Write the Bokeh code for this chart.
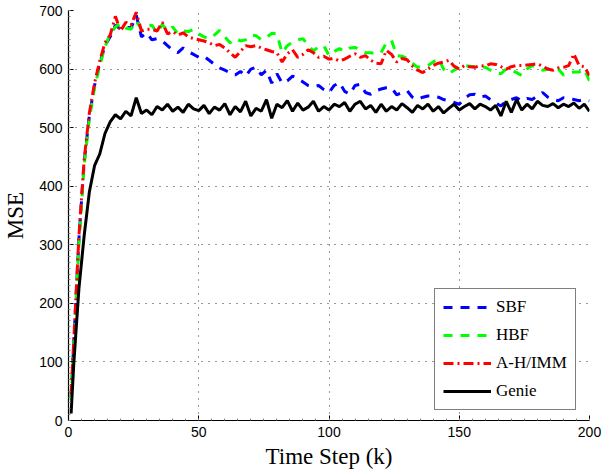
from bokeh.plotting import figure
from bokeh.models import (SingleIntervalTicker, Legend, LegendItem, Range1d)
from bokeh.embed import file_html
from bokeh.resources import INLINE

# time steps: k = 1, then 2, 4, ..., 200
k = [1] + list(range(2, 201, 2))

sbf = [40, 130, 310, 440, 520, 572, 610, 640, 655, 675,
       668, 672, 670, 692, 655, 662, 650, 652, 648, 640,
       632, 628, 636, 630, 625, 620, 622, 615, 608, 602,
       598, 594, 590, 596, 588, 600, 603, 590, 598, 576,
       592, 576, 580, 588, 584, 578, 572, 570, 572, 565,
       560, 572, 577, 562, 557, 572, 574, 560, 557, 563,
       566, 568, 568, 556, 560, 563, 552, 548, 552, 554,
       554, 552, 548, 546, 543, 540, 550, 556, 557, 552,
       554, 548, 542, 537, 545, 548, 551, 546, 550, 548,
       554, 560, 552, 548, 546, 551, 550, 548, 546, 548, 546]

hbf = [35, 125, 300, 435, 515, 568, 606, 638, 660, 672,
       678, 670, 668, 682, 668, 672, 675, 662, 676, 666,
       672, 660, 665, 664, 668, 660, 655, 652, 658, 666,
       655, 645, 652, 648, 650, 658, 657, 650, 654, 661,
       660, 628, 640, 646, 650, 652, 640, 631, 638, 640,
       623, 630, 635, 630, 636, 637, 633, 628, 628, 626,
       628, 645, 649, 623, 622, 618, 610, 603, 605, 606,
       612, 618, 600, 592, 598, 603, 606, 605, 604, 603,
       603, 598, 594, 592, 600, 598, 594, 589, 600, 606,
       602, 598, 600, 598, 600, 590, 592, 595, 595, 600, 580]

ahimm = [45, 135, 315, 445, 525, 576, 614, 645, 658, 690,
         665, 680, 675, 697, 665, 668, 668, 665, 680, 660,
         664, 658, 662, 655, 652, 650, 648, 645, 640, 642,
         636, 628, 620, 630, 640, 638, 640, 636, 633, 630,
         628, 612, 626, 633, 620, 625, 633, 628, 620, 622,
         617, 618, 614, 617, 622, 626, 620, 623, 615, 610,
         609, 632, 625, 612, 618, 616, 605, 598, 594, 600,
         606, 610, 612, 615, 605, 600, 606, 604, 603, 606,
         605, 609, 608, 604, 600, 604, 606, 606, 607, 608,
         609, 605, 600, 598, 602, 603, 606, 626, 606, 604, 589]

genie = [12, 95, 225, 315, 390, 435, 455, 490, 510, 522,
         515, 528, 520, 551, 524, 530, 522, 536, 530, 540,
         528, 535, 526, 540, 532, 529, 538, 524, 535, 530,
         541, 522, 536, 527, 545, 520, 533, 528, 548, 516,
         540, 534, 546, 528, 542, 530, 535, 545, 528, 536,
         530, 540, 536, 543, 528, 540, 545, 532, 538, 526,
         540, 528, 536, 530, 541, 534, 526, 538, 532, 540,
         528, 536, 525, 533, 540, 530, 536, 541, 532, 540,
         536, 530, 538, 520, 545, 526, 548, 530, 540, 532,
         545, 538, 536, 541, 534, 540, 536, 542, 533, 540, 528]

series_names = ["SBF", "HBF", "A-H/IMM", "Genie"]
x_ticks_interval = 50
y_ticks_interval = 100

SERIF = "Liberation Serif"
SANS = "Liberation Sans"

p = figure(width=613, height=471, output_backend="svg", toolbar_location=None,
           x_range=Range1d(0, 200), y_range=Range1d(0, 700),
           min_border_left=68, min_border_right=24, min_border_top=10, min_border_bottom=10,
           background_fill_color="white", border_fill_color="white")
p.outline_line_color = None

r_sbf = p.line(k, sbf, line_color="#0000FF", line_width=3, line_dash="9 8")
r_hbf = p.line(k, hbf, line_color="#00FF00", line_width=3, line_dash="9 8")
r_ah = p.line(k, ahimm, line_color="#FF0000", line_width=3, line_dash="10 4 2 4")
r_gen = p.line(k, genie, line_color="#000000", line_width=3)

xt = SingleIntervalTicker(interval=x_ticks_interval, num_minor_ticks=10)
yt = SingleIntervalTicker(interval=y_ticks_interval, num_minor_ticks=10)
p.xaxis.ticker = xt
p.yaxis.ticker = yt
p.xgrid.ticker = xt
p.ygrid.ticker = yt

for ax in (p.xaxis[0], p.yaxis[0]):
    ax.axis_line_color = "black"
    ax.axis_line_width = 1.2
    ax.major_tick_in = 5
    ax.major_tick_out = 0
    ax.minor_tick_in = 2
    ax.minor_tick_out = 0
    ax.minor_tick_line_color = "#888888"
    ax.major_label_text_font = SANS
    ax.major_label_text_font_size = "14px"
    ax.major_label_text_color = "black"
    ax.major_label_standoff = 6

p.yaxis.axis_label = "MSE"
p.yaxis.axis_label_text_font = SERIF
p.yaxis.axis_label_text_font_style = "normal"
p.yaxis.axis_label_text_font_size = "23px"
p.yaxis.axis_label_text_color = "black"
p.yaxis.axis_label_standoff = 8

p.xaxis.axis_label = "Time Step (k)"
p.xaxis.axis_label_text_font = SERIF
p.xaxis.axis_label_text_font_style = "normal"
p.xaxis.axis_label_text_font_size = "23px"
p.xaxis.axis_label_text_color = "black"
p.xaxis.axis_label_standoff = 4

for g in (p.xgrid[0], p.ygrid[0]):
    g.grid_line_color = "#333333"
    g.grid_line_dash = "1 6"
    g.grid_line_width = 1

legend = Legend(items=[LegendItem(label=series_names[0], renderers=[r_sbf]),
                       LegendItem(label=series_names[1], renderers=[r_hbf]),
                       LegendItem(label=series_names[2], renderers=[r_ah]),
                       LegendItem(label=series_names[3], renderers=[r_gen])],
                location=(366, 10), orientation="vertical",
                glyph_width=48, glyph_height=20, label_standoff=5,
                spacing=8, padding=8, margin=0,
                label_text_font=SERIF, label_text_font_size="17px",
                label_text_color="black",
                border_line_color="black", border_line_width=1.5,
                background_fill_color="white", background_fill_alpha=1.0)
p.add_layout(legend, "center")

open("out.html", "w").write(file_html(p, INLINE))
